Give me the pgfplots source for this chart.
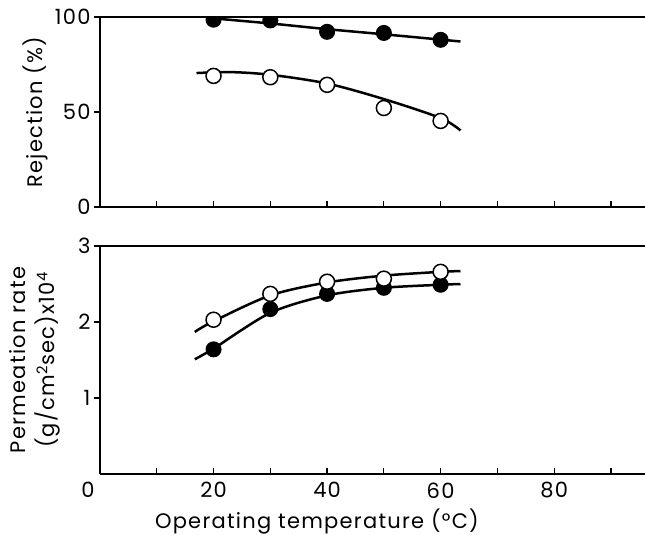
\documentclass[border=0pt]{standalone}
\usepackage{fontspec}
\setmainfont{Poppins}[LetterSpace=6]
\usepackage{pgfplots}
\pgfplotsset{compat=1.18}
\begin{document}
\begin{tikzpicture}
\useasboundingbox (0,0) rectangle (645pt,-535pt);
\pgfplotsset{
 base/.style={scale only axis, width=545pt, xmin=0, xmax=96,
   axis x line=box, axis y line=left, axis line style={-, line width=1.3pt},
   xtick pos=bottom, ytick pos=left, xtick align=inside, ytick align=outside,
   major tick length=6pt, tick style={line width=1.2pt, black},
   font=\fontsize{21}{29}\selectfont,
   /pgf/number format/assume math mode=true,
   clip marker paths=true},
 fm/.style={only marks, mark=*, mark size=7.5pt, mark options={fill=black, draw=black, line width=1pt}},
 om/.style={only marks, mark=*, mark size=7.5pt, mark options={fill=white, draw=black, line width=1.5pt}},
 cv/.style={smooth, no marks, line width=2.5pt, black},
}
% top: rejection
\begin{axis}[base, at={(100pt,-17pt)}, anchor=north west, height=190pt,
  ymin=0, ymax=100, ytick={0,50,100},
  xtick={10,20,...,90}, xticklabels={},
  ylabel={Rejection (\%)},
  ylabel style={at={(axis description cs:-0.119,0.5)}, anchor=center}]
\addplot[cv] coordinates {(19.5,99.4) (30,96.6) (40,93.6) (50,90.9) (60,88.1) (63.5,87.1)};
\addplot[cv] coordinates {(17,70.5) (23,71) (30,69.6) (40,65) (50,56.8) (60,46.8) (63.5,40.3)};
\addplot[fm] coordinates {(20,98.6) (30,98.2) (40,92.2) (50,91.6) (60,88.0)};
\addplot[om] coordinates {(20,69) (30,68.3) (40,64.3) (50,52.1) (60,45.3)};
\end{axis}
% bottom: permeation rate
\begin{axis}[base, at={(100pt,-246pt)}, anchor=north west, height=228pt,
  ymin=0, ymax=3, ytick={1,2,3},
  xtick={0,10,...,90}, xticklabels={0\kern24pt,,20,,40,,60,,80,},
  xticklabel style={yshift=-5pt},
  ylabel={Permeation rate\\(g/cm\textsuperscript{2}sec)x10\textsuperscript{4}},
  ylabel style={at={(axis description cs:-0.119,0.5)}, anchor=center, align=center},
  xlabel={Operating\ temperature\ (°C)},
  xlabel style={at={(axis description cs:0.398,0)}, yshift=-48pt, anchor=center}]
\addplot[cv] coordinates {(16.7,1.87) (20,2.01) (30,2.35) (40,2.52) (50,2.61) (60,2.66) (63.5,2.67)};
\addplot[cv] coordinates {(16.7,1.51) (20,1.65) (30,2.12) (40,2.35) (50,2.45) (60,2.49) (63.5,2.50)};
\addplot[fm] coordinates {(20,1.64) (30,2.17) (40,2.37) (50,2.45) (60,2.49)};
\addplot[om] coordinates {(20,2.03) (30,2.37) (40,2.53) (50,2.57) (60,2.66)};
\end{axis}
\end{tikzpicture}
\end{document}
